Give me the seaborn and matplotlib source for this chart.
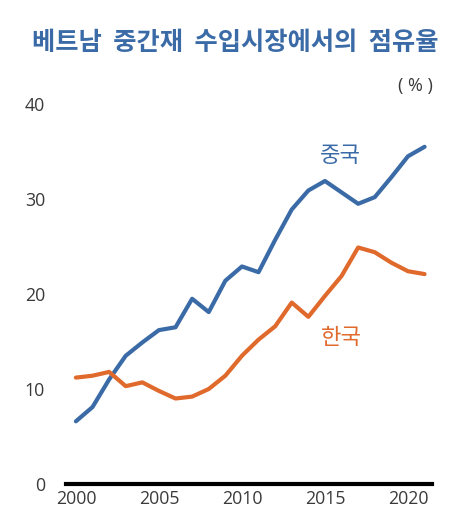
import numpy as np
import pandas as pd
import matplotlib.pyplot as plt
import seaborn as sns

# ─────────────────────────────────────────────
# Data (share of Vietnam's intermediate-goods imports, %)
# ─────────────────────────────────────────────
YEARS = list(range(2000, 2022))
CHINA = [6.6, 8.1, 11.0, 13.5, 14.9, 16.2, 16.5, 19.5, 18.1, 21.4, 22.9,
         22.3, 25.7, 28.9, 30.9, 31.9, 30.7, 29.5, 30.2, 32.3, 34.5, 35.5]
KOREA = [11.2, 11.4, 11.8, 10.3, 10.7, 9.8, 9.0, 9.2, 10.0, 11.4, 13.5,
         15.2, 16.6, 19.1, 17.6, 19.8, 21.9, 24.9, 24.4, 23.3, 22.4, 22.1]
SERIES = ["중국", "한국"]
X_TICKS = [2000, 2005, 2010, 2015, 2020]
Y_TICKS = [0, 10, 20, 30, 40]

BLUE = "#3b6ba7"
ORANGE = "#e0692c"
TEXT = "#3a3a3a"

df = pd.DataFrame({
    "year": YEARS * 2,
    "share": CHINA + KOREA,
    "country": [SERIES[0]] * len(YEARS) + [SERIES[1]] * len(YEARS),
})

# ─────────────────────────────────────────────
# Plot
# ─────────────────────────────────────────────
sns.set_style("white")
plt.rcParams["font.family"] = ["Noto Sans CJK KR", "DejaVu Sans"]

fig = plt.figure(figsize=(4.71, 5.27), dpi=100)
ax = fig.add_axes([0.140, 0.0816, 0.7766, 0.757])

sns.lineplot(data=df, x="year", y="share", hue="country",
             palette={SERIES[0]: BLUE, SERIES[1]: ORANGE},
             linewidth=3.0, legend=False, ax=ax)

ax.set_xlim(1999.4, 2021.43)
ax.set_ylim(0, 42)
ax.set_xticks(X_TICKS)
ax.set_yticks(Y_TICKS)
ax.set_xlabel("")
ax.set_ylabel("")

for side in ["top", "right", "left"]:
    ax.spines[side].set_visible(False)
ax.spines["bottom"].set_color("black")
ax.spines["bottom"].set_linewidth(3)

ax.tick_params(axis="both", length=0, labelcolor=TEXT)
ax.tick_params(axis="y", pad=15)
ax.tick_params(axis="x", pad=4)
for lab in ax.get_xticklabels() + ax.get_yticklabels():
    lab.set_fontfamily(["Open Sans", "DejaVu Sans"])
    lab.set_fontweight("normal")
    lab.set_fontsize(12.8)

# series labels
ax.text(2015.9, 34.6, SERIES[0], color=BLUE, fontsize=16,
        ha="center", va="center")
ax.text(2016.0, 15.4, SERIES[1], color=ORANGE, fontsize=16,
        ha="center", va="center")

fig.text(0.5, 0.920, "베트남  중간재  수입시장에서의  점유율", color=BLUE,
         fontsize=18.2, fontweight="bold", ha="center", va="center")
fig.text(0.883, 0.837, "( % )", color=TEXT, fontsize=13,
         family=["Open Sans", "DejaVu Sans"],
         ha="center", va="center")

fig.savefig("out.png", dpi=100)
